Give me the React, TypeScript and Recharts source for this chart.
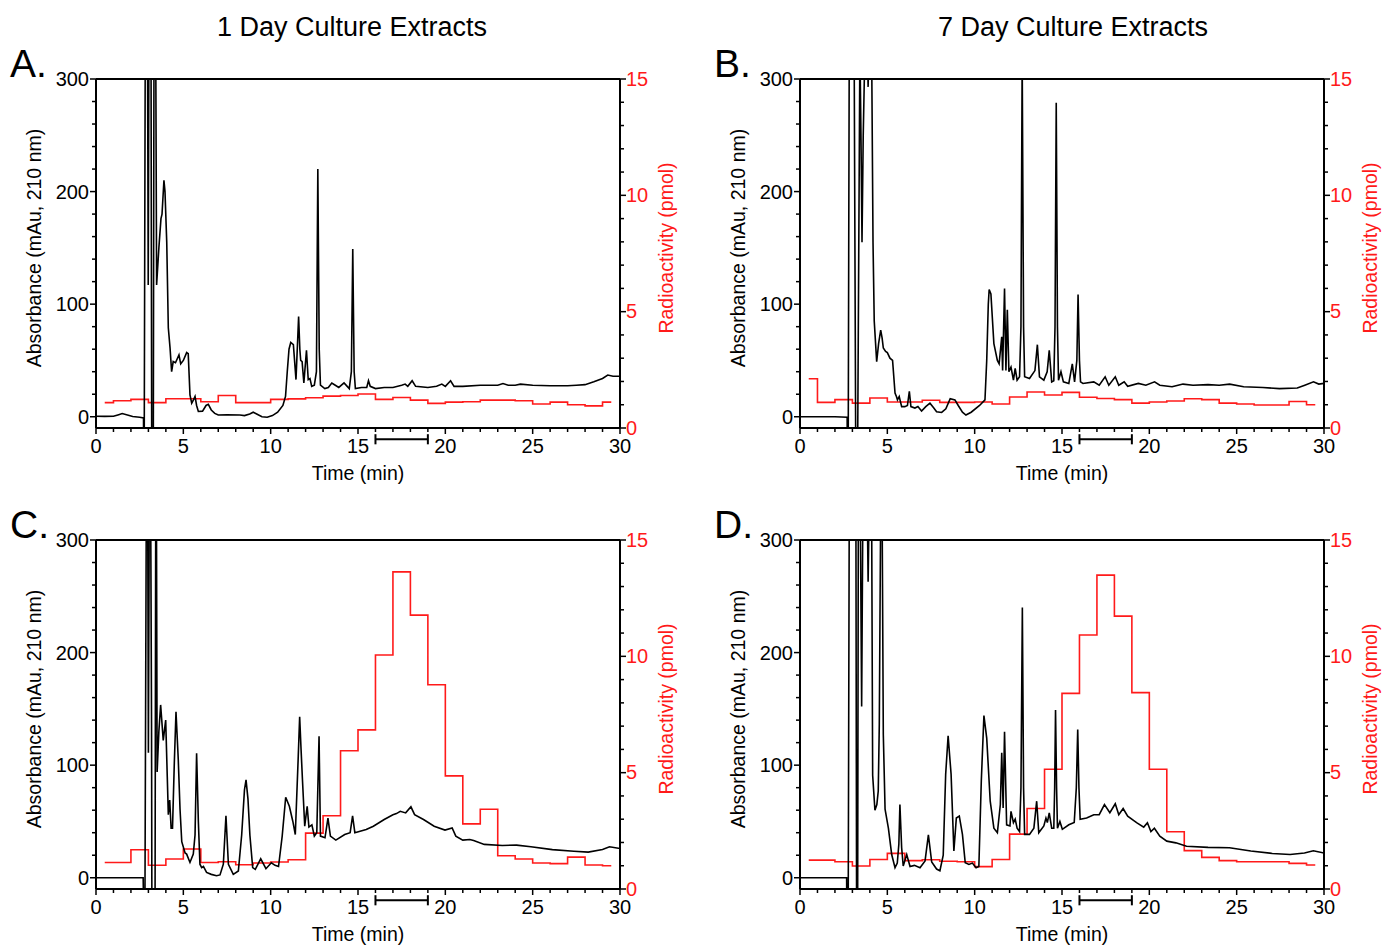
import React from 'react';
import { LineChart, Line, XAxis, YAxis, ReferenceLine } from 'recharts';

// HPLC traces: [time (min), absorbance (mAu)]; values beyond the axis range are clipped
const absA: [number, number][] = [
  [0, 0.5], [0.5, 0.3], [1.0, 0.4], [1.3, 1.8], [1.5, 2.8], [1.8, 1.5], [2.1, 0.2], [2.5, -0.5], [2.72, -1],
  [2.73, -30], [2.76, -30], [2.82, 330], [2.95, 330], [2.99, 117], [3.03, 330], [3.15, 330], [3.19, -30],
  [3.28, -30], [3.32, 330], [3.42, 330], [3.47, 117], [3.6, 150], [3.72, 176], [3.78, 180], [3.89, 210],
  [3.95, 200], [4.05, 155], [4.14, 79], [4.24, 61], [4.33, 40], [4.42, 49], [4.55, 48], [4.75, 55], [4.85, 47],
  [5.0, 50], [5.19, 57], [5.28, 56], [5.38, 19.5], [5.48, 12], [5.58, 15], [5.67, 18], [5.76, 10], [5.86, 4.7],
  [6.1, 5], [6.3, 10], [6.43, 11], [6.6, 6], [6.8, 3], [7.0, 1.5], [7.5, 1.8], [8.24, 1.5], [8.5, 1], [8.8, 2.5],
  [9.0, 4], [9.2, 2.5], [9.5, 0], [9.8, -0.5], [10.1, 1], [10.4, 4], [10.7, 10], [10.85, 18], [10.95, 40],
  [11.05, 60], [11.15, 66], [11.3, 64], [11.45, 33], [11.55, 70], [11.6, 89], [11.67, 60], [11.72, 50],
  [11.8, 49], [11.9, 30], [12.05, 59], [12.15, 33], [12.25, 34], [12.35, 27], [12.5, 28], [12.62, 40],
  [12.7, 220], [12.78, 60], [12.85, 28], [13.1, 25], [13.3, 26], [13.5, 30], [13.7, 28], [13.9, 26], [14.2, 30],
  [14.5, 25], [14.62, 40], [14.7, 149], [14.78, 40], [14.85, 25], [15.2, 26], [15.5, 26], [15.6, 32], [15.7, 27],
  [16.0, 25], [16.5, 26], [17.0, 26], [17.5, 28], [17.7, 29], [17.85, 27], [18.1, 32], [18.3, 27], [19.0, 26],
  [19.5, 27], [19.8, 29], [20.0, 27], [20.3, 32], [20.5, 27], [21, 27], [22, 28], [23, 28], [23.3, 29.5],
  [23.6, 28], [24, 28], [24.3, 29], [25, 28], [26, 27.5], [27, 27.5], [27.5, 28], [28, 28.5], [28.5, 31],
  [29, 34], [29.3, 37], [29.6, 36], [30, 36],
];

const absB: [number, number][] = [
  [0, 0], [1, 0], [2, 0], [2.7, -0.5], [2.71, -30], [2.76, -30], [2.82, 330], [3.1, 330], [3.19, -30], [3.3, -30],
  [3.43, 330], [3.49, 250], [3.55, 155], [3.62, 250], [3.72, 330], [3.85, 330], [3.9, 293], [3.95, 330],
  [4.1, 330], [4.18, 155], [4.25, 85], [4.39, 49], [4.5, 65], [4.62, 77], [4.7, 70], [4.77, 61], [4.9, 58],
  [5.0, 57], [5.15, 52], [5.3, 50], [5.44, 21], [5.52, 18], [5.58, 15], [5.68, 18], [5.82, 9], [6.0, 9],
  [6.15, 10], [6.26, 22.5], [6.35, 9], [6.58, 7.7], [6.75, 9], [6.96, 5], [7.2, 9], [7.44, 12], [7.65, 8],
  [7.82, 4.4], [8.11, 3.8], [8.35, 7], [8.6, 16], [8.87, 15], [9.06, 10], [9.3, 4], [9.5, 1.5], [9.8, 4],
  [10.28, 10], [10.59, 15], [10.69, 50], [10.78, 100], [10.83, 113], [10.93, 109], [11.1, 65], [11.3, 50],
  [11.4, 47], [11.55, 71], [11.6, 41], [11.71, 114], [11.79, 41], [11.87, 95], [11.96, 40], [12.08, 44],
  [12.22, 32.5], [12.32, 43], [12.43, 32.5], [12.57, 35.5], [12.65, 80], [12.72, 320], [12.8, 80],
  [12.86, 35.5], [13.14, 34], [13.45, 41], [13.59, 64], [13.71, 35.5], [13.96, 32.5], [14.15, 40], [14.27, 59],
  [14.41, 31], [14.53, 32], [14.6, 80], [14.67, 279], [14.74, 80], [14.8, 32.5], [14.94, 40], [15.08, 31],
  [15.39, 29.6], [15.59, 47], [15.72, 31], [15.85, 50], [15.92, 108.6], [16.0, 50], [16.06, 31], [16.2, 29.6],
  [16.82, 31], [17.13, 28], [17.47, 35.5], [17.68, 28], [18.05, 35.5], [18.25, 28], [18.56, 31], [18.76, 27],
  [19.37, 29.6], [19.8, 28], [20.3, 31], [20.6, 28], [21.3, 26.6], [21.93, 29], [22.5, 28], [23.36, 28.5],
  [24, 28], [24.6, 29], [25.4, 26.6], [26.5, 26], [27.45, 25], [28.47, 25.5], [28.9, 28], [29.4, 31],
  [29.7, 29], [30, 29.6],
];

const absC: [number, number][] = [
  [0, 0], [1, 0], [2, 0], [2.7, 0], [2.73, -30], [2.8, -30], [2.88, 330], [2.96, 330], [3.0, 111], [3.05, 330],
  [3.13, 330], [3.18, 137], [3.2, -30], [3.38, -30], [3.42, 330], [3.46, 330], [3.5, 94], [3.6, 130],
  [3.7, 153.5], [3.85, 122], [3.99, 140], [4.08, 90], [4.14, 56], [4.22, 69], [4.3, 44], [4.38, 44],
  [4.48, 100], [4.58, 147.5], [4.71, 105], [4.81, 61], [4.91, 32], [5.1, 22], [5.19, 21], [5.38, 13.6],
  [5.57, 21], [5.67, 38], [5.76, 110.6], [5.86, 50], [5.95, 12], [6.05, 9], [6.15, 10], [6.33, 4.7], [6.6, 3],
  [6.9, 1.8], [7.1, 2.5], [7.29, 12], [7.44, 55], [7.58, 12], [7.86, 3], [8.15, 6], [8.34, 38], [8.5, 78],
  [8.59, 87], [8.7, 70], [8.81, 38], [8.97, 9], [9.12, 7.4], [9.43, 16.8], [9.73, 8], [10.04, 13.3],
  [10.25, 11], [10.45, 10], [10.66, 37], [10.86, 71.5], [11.07, 63.5], [11.27, 50], [11.41, 38.4],
  [11.58, 108], [11.66, 143], [11.74, 114], [11.82, 87], [11.95, 45.8], [12.09, 63.5], [12.19, 45],
  [12.36, 47], [12.5, 37], [12.64, 40], [12.77, 125.6], [12.85, 37], [13.11, 35.5], [13.28, 53], [13.42, 37],
  [13.73, 33.4], [14.24, 38.4], [14.55, 40], [14.69, 55], [14.82, 40], [15.47, 42.9], [15.88, 45.8],
  [16.5, 51.7], [17.0, 56], [17.2, 57], [17.42, 59], [17.73, 57.6], [18.03, 63], [18.24, 56], [18.75, 51.7],
  [19.36, 45.8], [19.98, 42.3], [20.39, 44.3], [20.6, 37], [21.0, 33.4], [21.4, 34], [21.62, 33],
  [22.23, 29.6], [23.26, 28.7], [24.08, 29], [24.9, 27.5], [26.13, 25], [27.36, 23.6], [28.18, 22.8],
  [29.0, 25], [29.4, 27.5], [30, 26],
];

const absD: [number, number][] = [
  [0, 0], [1, 0], [2, 0], [2.67, 0], [2.68, -30], [2.76, -30], [2.82, 330], [3.2, 330], [3.24, -30], [3.3, -30],
  [3.34, 330], [3.45, 330], [3.53, 152], [3.6, 330], [3.85, 330], [3.9, 263], [3.96, 330], [4.1, 330],
  [4.16, 91], [4.29, 60], [4.4, 65], [4.48, 77], [4.54, 136], [4.62, 330], [4.7, 330], [4.77, 127], [4.87, 61],
  [5.06, 44], [5.25, 20.6], [5.44, 8.9], [5.57, 13], [5.66, 30], [5.72, 65], [5.82, 26.6], [5.91, 10.5],
  [6.11, 20.6], [6.3, 10], [6.55, 11], [6.87, 8.9], [7.16, 15], [7.35, 38], [7.54, 14], [7.82, 7.7],
  [8.01, 6.2], [8.2, 20], [8.34, 92], [8.48, 126], [8.65, 92], [8.81, 23.7], [8.95, 53], [9.12, 54.7],
  [9.3, 38.5], [9.46, 13.3], [9.67, 11.8], [9.87, 13], [10.08, 8.9], [10.24, 10], [10.38, 86], [10.53, 144],
  [10.69, 124], [10.89, 68], [11.1, 44], [11.3, 40], [11.47, 65], [11.55, 111], [11.63, 62], [11.71, 129.6],
  [11.83, 47], [12.02, 46], [12.08, 59], [12.22, 49], [12.32, 52], [12.43, 44], [12.57, 41], [12.65, 80],
  [12.73, 240], [12.8, 80], [12.86, 38.5], [13.14, 38.5], [13.39, 44], [13.55, 68], [13.67, 40], [13.96, 46],
  [14.08, 53], [14.16, 49], [14.27, 57.7], [14.41, 44], [14.53, 44], [14.58, 80], [14.63, 149], [14.69, 80],
  [14.74, 44], [14.88, 50], [15.02, 43], [15.39, 47], [15.7, 49], [15.82, 80], [15.9, 131.7], [15.97, 80],
  [16.04, 52], [16.41, 53], [16.82, 56], [17.13, 56], [17.43, 65], [17.74, 57.7], [18.05, 65.7], [18.25, 56],
  [18.5, 61.5], [18.76, 54.7], [19.27, 49], [19.68, 45], [19.89, 48.8], [20.09, 41], [20.29, 44], [20.6, 37],
  [21.0, 32.5], [21.52, 31], [22.13, 28], [23.36, 27], [24.59, 26.6], [25.81, 23.7], [27.04, 21.6],
  [28.06, 20.7], [28.88, 22], [29.39, 24], [30, 22],
];

// radioactivity per 1-min fraction (pmol), starting at 0.5 min; last entry repeats to close the step
const fractionTimes = [0.5, 1, 2, 3, 4, 5, 6, 7, 8, 9, 10, 11, 12, 13, 14, 15, 16, 17, 18, 19, 20, 21, 22, 23, 24, 25, 26, 27, 28, 29, 29.5];
const radA = [1.09, 1.17, 1.23, 1.09, 1.26, 1.26, 1.13, 1.4, 1.09, 1.09, 1.23, 1.25, 1.3, 1.37, 1.4, 1.46, 1.23, 1.31, 1.2, 1.06, 1.11, 1.13, 1.2, 1.2, 1.17, 1.03, 1.11, 1.0, 0.95, 1.11, 1.11];
const radB = [2.12, 1.1, 1.22, 1.07, 1.29, 1.12, 1.12, 1.19, 1.1, 1.1, 1.12, 1.03, 1.33, 1.55, 1.42, 1.53, 1.32, 1.27, 1.22, 1.07, 1.12, 1.16, 1.26, 1.22, 1.07, 1.03, 0.99, 0.99, 1.14, 1.0, 1.0];
const radC = [1.14, 1.14, 1.69, 1.02, 1.29, 1.72, 1.14, 1.17, 1.04, 1.12, 1.16, 1.26, 2.4, 3.15, 5.94, 6.84, 10.06, 13.63, 11.77, 8.78, 4.86, 2.8, 3.43, 1.43, 1.29, 1.12, 1.09, 1.37, 1.03, 1.0, 1.0];
const radD = [1.24, 1.24, 1.17, 0.99, 1.27, 1.53, 1.22, 1.26, 1.19, 1.17, 0.96, 1.27, 2.36, 3.46, 5.15, 8.41, 10.92, 13.49, 11.73, 8.44, 5.15, 2.46, 1.65, 1.36, 1.22, 1.17, 1.17, 1.17, 1.1, 1.03, 1.03];

const timeTicks = Array.from({ length: 31 }, (_, i) => i);
const absTicks = Array.from({ length: 16 }, (_, i) => i * 20);
const radTicks = Array.from({ length: 16 }, (_, i) => i);

const FONT = '"Liberation Sans", Arial, Helvetica, sans-serif';
const RED = '#ff1a1a';

const BottomTick = (props: any) => {
  const { x, y, payload } = props;
  const major = payload.value % 5 === 0;
  return (
    <g>
      <line x1={x} x2={x} y1={y} y2={y + (major ? 6 : 4)} stroke="#000" strokeWidth={1.5} />
      {major && (
        <text x={x} y={y + 25} textAnchor="middle" fontSize={20} fontFamily={FONT} fill="#000">
          {payload.value}
        </text>
      )}
    </g>
  );
};

const LeftTick = (props: any) => {
  const { x, y, payload } = props;
  const major = payload.value % 100 === 0;
  return (
    <g>
      <line x1={x} x2={x - (major ? 6 : 4)} y1={y} y2={y} stroke="#000" strokeWidth={1.5} />
      {major && (
        <text x={x - 7} y={y + 7} textAnchor="end" fontSize={20} fontFamily={FONT} fill="#000">
          {payload.value}
        </text>
      )}
    </g>
  );
};

const RightTick = (props: any) => {
  const { x, y, payload } = props;
  const major = payload.value % 5 === 0;
  return (
    <g>
      <line x1={x} x2={x + (major ? 6 : 4)} y1={y} y2={y} stroke="#000" strokeWidth={1.5} />
      {major && (
        <text x={x + 6} y={y + 6.5} textAnchor="start" fontSize={20} fontFamily={FONT} fill={RED}>
          {payload.value}
        </text>
      )}
    </g>
  );
};

interface PanelProps {
  abs: [number, number][];
  rad: number[];
  plotLeft: number;
  plotTop: number;
  letter: string;
}

const Panel: React.FC<PanelProps> = ({ abs, rad, plotLeft, plotTop, letter }) => {
  const absData = abs.map(([t, v]) => ({ t, v }));
  const radData = fractionTimes.map((t, i) => ({ t, r: rad[i] }));
  const plotW = 524;
  const plotH = 349;
  const cx = plotLeft + plotW / 2;
  const cy = plotTop + 169;
  return (
    <>
      <div style={{ position: 'absolute', left: plotLeft - 86, top: plotTop - 37, fontSize: 39, lineHeight: '44px' }}>
        {letter}
      </div>
      <div style={{ position: 'absolute', left: plotLeft - 96, top: plotTop - 39 }}>
        <LineChart width={676} height={438} margin={{ top: 39, right: 0, bottom: 0, left: 0 }}>
          <XAxis
            type="number"
            dataKey="t"
            domain={[0, 30]}
            ticks={timeTicks}
            interval={0}
            tickSize={0}
            tickMargin={0}
            tick={<BottomTick />}
            tickLine={false}
            axisLine={{ stroke: '#000', strokeWidth: 2 }}
            height={50}
            allowDataOverflow
          />
          <YAxis
            yAxisId="left"
            type="number"
            domain={[-10, 300]}
            ticks={absTicks}
            interval={0}
            tickSize={0}
            tickMargin={0}
            tick={<LeftTick />}
            tickLine={false}
            axisLine={{ stroke: '#000', strokeWidth: 2 }}
            width={96}
            allowDataOverflow
          />
          <YAxis
            yAxisId="right"
            orientation="right"
            type="number"
            domain={[0, 15]}
            ticks={radTicks}
            interval={0}
            tickSize={0}
            tickMargin={0}
            tick={<RightTick />}
            tickLine={false}
            axisLine={{ stroke: '#000', strokeWidth: 2 }}
            width={56}
            allowDataOverflow
          />
          <ReferenceLine yAxisId="left" y={300} stroke="#000" strokeWidth={2} />
          <Line
            yAxisId="right"
            data={radData}
            dataKey="r"
            type="stepAfter"
            stroke={RED}
            strokeWidth={1.6}
            dot={false}
            activeDot={false}
            isAnimationActive={false}
          />
          <Line
            yAxisId="left"
            data={absData}
            dataKey="v"
            type="linear"
            stroke="#000"
            strokeWidth={1.6}
            dot={false}
            activeDot={false}
            isAnimationActive={false}
          />
          <ReferenceLine yAxisId="left" segment={[{ x: 16, y: -20 }, { x: 19, y: -20 }]} stroke="#000" strokeWidth={2} ifOverflow="visible" />
          <ReferenceLine yAxisId="left" segment={[{ x: 16, y: -15.5 }, { x: 16, y: -24.5 }]} stroke="#000" strokeWidth={2} ifOverflow="visible" />
          <ReferenceLine yAxisId="left" segment={[{ x: 19, y: -15.5 }, { x: 19, y: -24.5 }]} stroke="#000" strokeWidth={2} ifOverflow="visible" />
        </LineChart>
      </div>
      <div
        style={{
          position: 'absolute', left: plotLeft - 62, top: cy, transform: 'translate(-50%, -50%) rotate(-90deg)',
          whiteSpace: 'nowrap', fontSize: 19.5,
        }}
      >
        Absorbance (mAu, 210 nm)
      </div>
      <div
        style={{
          position: 'absolute', left: plotLeft + plotW + 46, top: cy, transform: 'translate(-50%, -50%) rotate(-90deg)',
          whiteSpace: 'nowrap', fontSize: 19.5, color: RED,
        }}
      >
        Radioactivity (pmol)
      </div>
      <div
        style={{
          position: 'absolute', left: cx, top: plotTop + plotH + 45, transform: 'translate(-50%, -50%)',
          whiteSpace: 'nowrap', fontSize: 19.5,
        }}
      >
        Time (min)
      </div>
    </>
  );
};

export default function App() {
  return (
    <div
      style={{
        position: 'absolute', left: 0, top: 0, width: 1382, height: 945, overflow: 'hidden',
        background: '#fff', fontFamily: FONT, color: '#000',
      }}
    >
      <div style={{ position: 'absolute', left: 352, top: 27, transform: 'translate(-50%, -50%)', fontSize: 27, whiteSpace: 'nowrap' }}>
        1 Day Culture Extracts
      </div>
      <div style={{ position: 'absolute', left: 1073, top: 27, transform: 'translate(-50%, -50%)', fontSize: 27, whiteSpace: 'nowrap' }}>
        7 Day Culture Extracts
      </div>
      <Panel abs={absA} rad={radA} plotLeft={96} plotTop={79} letter="A." />
      <Panel abs={absB} rad={radB} plotLeft={800} plotTop={79} letter="B." />
      <Panel abs={absC} rad={radC} plotLeft={96} plotTop={540} letter="C." />
      <Panel abs={absD} rad={radD} plotLeft={800} plotTop={540} letter="D." />
    </div>
  );
}
